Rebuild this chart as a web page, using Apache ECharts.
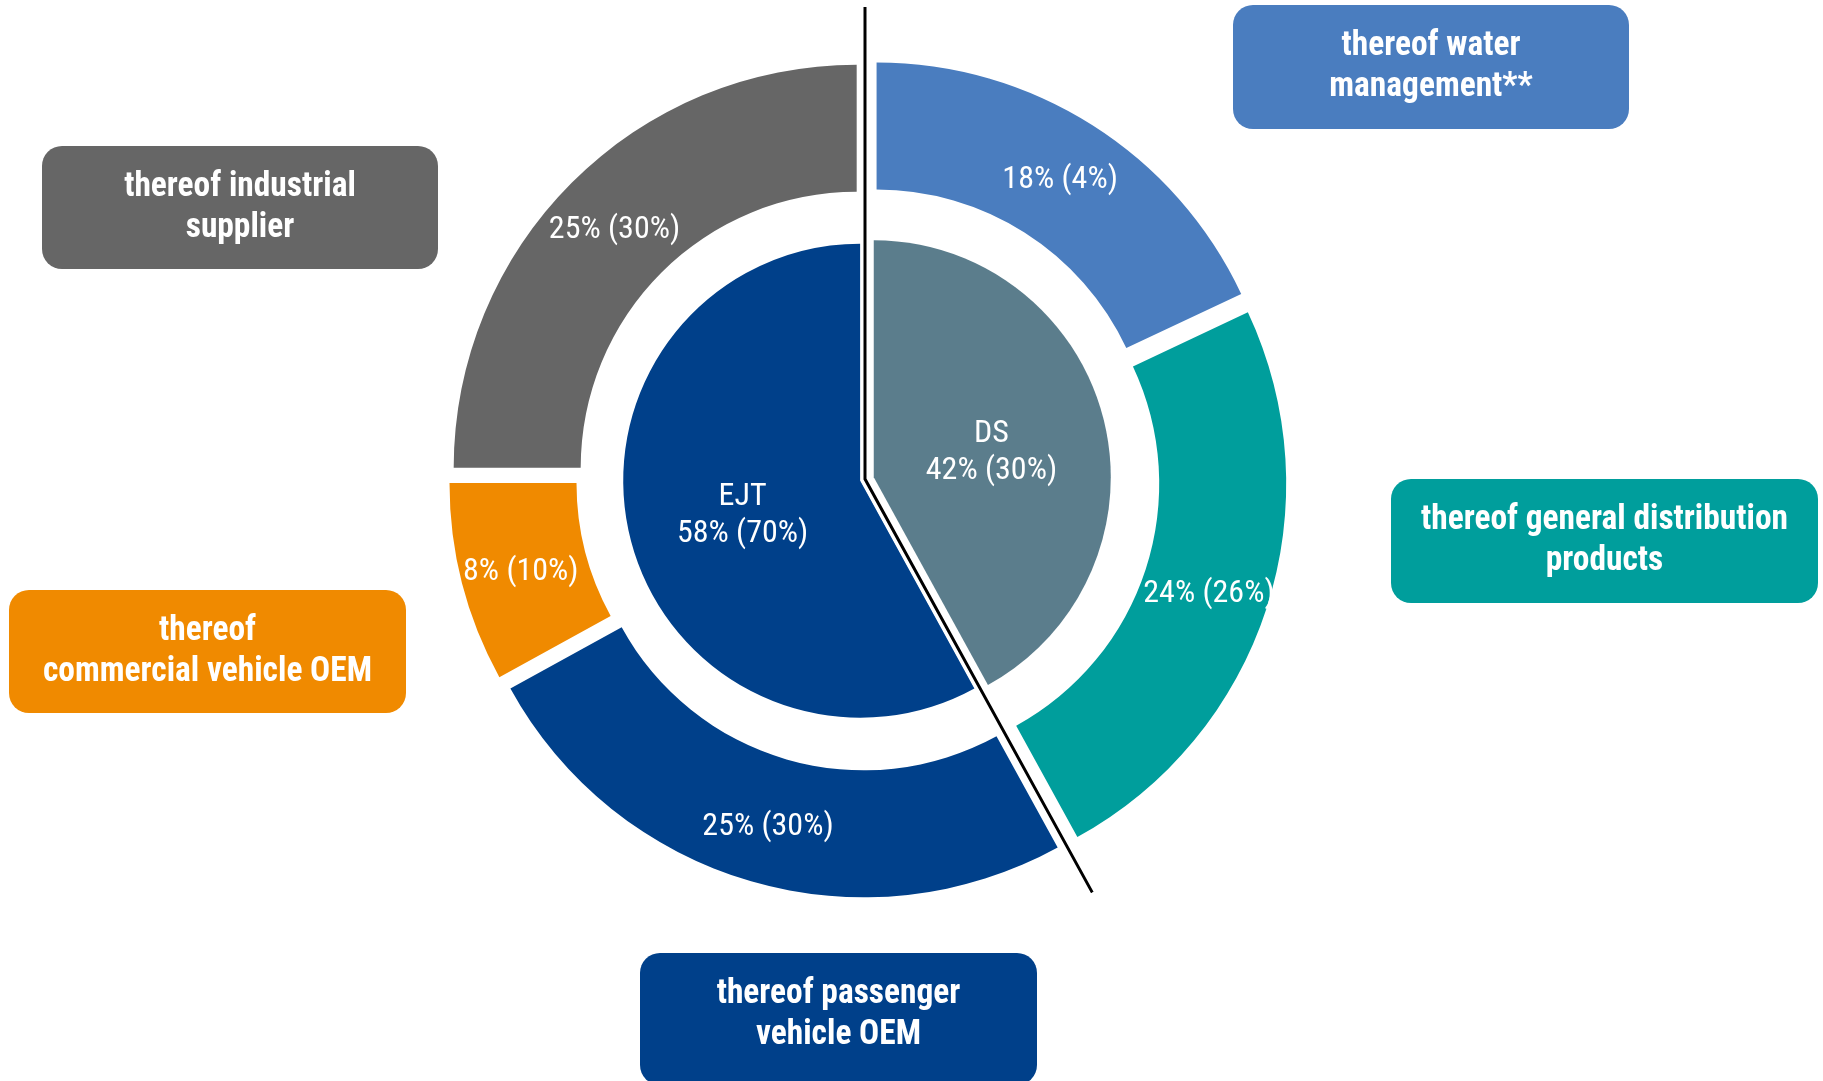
<!DOCTYPE html>
<html>
<head>
<meta charset="utf-8">
<script src="https://cdn.jsdelivr.net/npm/echarts@6/dist/echarts.min.js"></script>
<style>
  html, body { margin: 0; padding: 0; background: #fff; }
  #chart { width: 1823px; height: 1081px; }
</style>
</head>
<body>
<div id="chart"></div>
<script>
// inner pie: business segments, share of sales (prior year in brackets)
const segments = ['DS', 'EJT']
const segmentShare = [42, 58]
const segmentPrior = [30, 70]

// outer ring: customer groups, clockwise from the top
const customers = [
  'thereof water\nmanagement**',
  'thereof general distribution\nproducts',
  'thereof passenger\nvehicle OEM',
  'thereof\ncommercial vehicle OEM',
  'thereof industrial\nsupplier',
]
const customerShare = [18, 24, 25, 8, 25]
const customerPrior = [4, 26, 30, 10, 30]

const segmentColors = ['#5b7d8c', '#00408a']
const customerColors = ['#4a7dbf', '#009e9c', '#00408a', '#f08a00', '#666666']

// where the callout boxes sit (same order as customers)
const boxes = [
  { x: 1233, y: 5, w: 396, h: 124 },
  { x: 1391, y: 479, w: 427, h: 124 },
  { x: 640, y: 953, w: 397, h: 132 },
  { x: 9, y: 590, w: 397, h: 123 },
  { x: 42, y: 146, w: 396, h: 123 },
]

// the original uses a narrow face (Arial Narrow); look for something similar
const ctx = document.createElement('canvas').getContext('2d')
const probe = 'thereof commercial vehicle OEM 58% (70%)'
function widthOf(font) {
  ctx.font = font
  return ctx.measureText(probe).width
}
const baseWidth = widthOf("40px 'Liberation Sans'")
const candidates = [
  { family: "'Liberation Sans Narrow'", stretch: '' },
  { family: "'Arial Narrow'", stretch: '' },
  { family: "'Noto Sans Condensed'", stretch: '' },
  { family: "'Noto Sans SemiCondensed'", stretch: '' },
  { family: "'DejaVu Sans Condensed'", stretch: '' },
  { family: "'Roboto Condensed'", stretch: '' },
  { family: "'Open Sans Condensed'", stretch: '' },
  { family: "'Open Sans'", stretch: 'condensed' },
  { family: "'Noto Sans'", stretch: 'condensed' },
  { family: 'Roboto', stretch: 'condensed' },
]
let face = { family: "'Liberation Sans'", stretch: '', ratio: 1 }
for (const c of candidates) {
  const w = widthOf(`${c.stretch} 40px ${c.family}, monospace`.trim())
  const mono = widthOf('40px monospace')
  if (Math.abs(w - mono) < 0.5) continue
  const ratio = w / baseWidth
  if (ratio > 0.7 && ratio < 0.93) {
    face = { family: c.family, stretch: c.stretch, ratio: ratio }
    break
  }
}
// squeeze whatever is left to the width of the original face
const squeeze = Math.min(1, 0.83 / face.ratio)
const family = face.family + ", 'Liberation Sans', sans-serif"
const labelSize = Math.round(33 * squeeze)

const chart = echarts.init(document.getElementById('chart'))

const graphic = customers.map((name, i) => ({
  type: 'group',
  x: boxes[i].x,
  y: boxes[i].y,
  silent: true,
  children: [
    {
      type: 'rect',
      shape: { x: 0, y: 0, width: boxes[i].w, height: boxes[i].h, r: 20 },
      style: { fill: customerColors[i] },
    },
    {
      type: 'text',
      x: boxes[i].w / 2,
      y: 62,
      scaleX: squeeze,
      style: {
        text: name,
        fill: '#fff',
        fontFamily: family,
        fontStyle: face.stretch || 'normal',
        fontWeight: 'bold',
        fontSize: 35,
        align: 'center',
        verticalAlign: 'middle',
        lineHeight: 41,
      },
    },
  ],
}))

const option = {
  backgroundColor: '#fff',
  animation: false,
  graphic: graphic,
  polar: { center: [865, 479], radius: 472 },
  angleAxis: {
    type: 'value', min: 0, max: 100, startAngle: 90, clockwise: true,
    axisLine: { show: false }, axisTick: { show: false },
    axisLabel: { show: false }, splitLine: { show: false },
  },
  radiusAxis: {
    type: 'value', min: 0, max: 1,
    axisLine: { show: false }, axisTick: { show: false },
    axisLabel: { show: false }, splitLine: { show: false },
  },
  series: [
    {
      type: 'pie',
      silent: true,
      center: [867, 479],
      radius: [0, 237],
      startAngle: 90,
      selectedMode: 'multiple',
      selectedOffset: 7,
      label: {
        position: 'inside',
        color: '#fff',
        fontFamily: family,
        fontStyle: face.stretch || 'normal',
        fontSize: labelSize,
        lineHeight: 37,
        formatter: (p) => `${segments[p.dataIndex]}\n${segmentShare[p.dataIndex]}% (${segmentPrior[p.dataIndex]}%)`,
      },
      labelLayout: { dy: 5 },
      labelLine: { show: false },
      data: segments.map((n, i) => ({
        name: n, value: segmentShare[i], selected: true,
        itemStyle: { color: segmentColors[i] },
      })),
    },
    {
      type: 'pie',
      silent: true,
      center: [868, 479],
      radius: [276, 403],
      startAngle: 90,
      selectedMode: 'multiple',
      selectedOffset: 16,
      label: {
        position: 'inside',
        color: '#fff',
        fontFamily: family,
        fontStyle: face.stretch || 'normal',
        fontSize: labelSize,
        formatter: (p) => `${customerShare[p.dataIndex]}% (${customerPrior[p.dataIndex]}%)`,
      },
      labelLayout: { dy: 4 },
      labelLine: { show: false },
      data: customers.map((n, i) => ({
        name: n, value: customerShare[i], selected: true,
        itemStyle: { color: customerColors[i] },
      })),
    },
    // divider between the two segments, white halo first then the black line
    {
      type: 'line',
      coordinateSystem: 'polar',
      silent: true,
      symbol: 'none',
      z: 5,
      lineStyle: { color: '#fff', width: 9, join: 'miter' },
      data: [[1, 0], [0, 0], [1, segmentShare[0]]],
    },
    {
      type: 'line',
      coordinateSystem: 'polar',
      silent: true,
      symbol: 'none',
      z: 6,
      lineStyle: { color: '#000', width: 3, join: 'miter' },
      data: [[1, 0], [0, 0], [1, segmentShare[0]]],
    },
  ],
}

chart.setOption(option)
</script>
</body>
</html>
